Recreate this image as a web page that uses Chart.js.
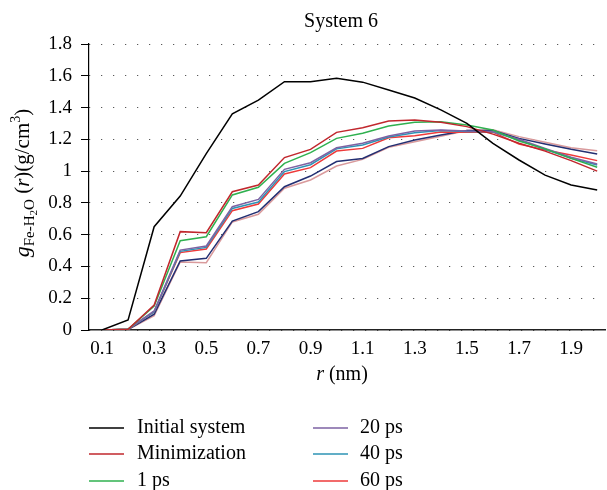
<!DOCTYPE html>
<html>
<head>
<meta charset="utf-8">
<script src="https://cdn.jsdelivr.net/npm/chart.js@4"></script>
<style>
  html, body { margin: 0; padding: 0; background: #fff; }
  #wrap { width: 607px; height: 490px; }
</style>
</head>
<body>
<div id="wrap"><canvas id="grafico" width="607" height="490"></canvas></div>
<script>
// distancia r (nm)
const rValores = [0.1, 0.2, 0.3, 0.4, 0.5, 0.6, 0.7, 0.8, 0.9, 1.0,
  1.1, 1.2, 1.3, 1.4, 1.5, 1.6, 1.7, 1.8, 1.9, 2.0];

const xTicks = [0.1, 0.3, 0.5, 0.7, 0.9, 1.1, 1.3, 1.5, 1.7, 1.9];

// g Fe-H2O (r) para cada etapa
const sistemaInicial = [0, 0.063, 0.65, 0.843, 1.11, 1.36, 1.447, 1.563, 1.563, 1.584,
  1.56, 1.51, 1.46, 1.385, 1.30, 1.175, 1.07, 0.975, 0.913, 0.881];
const minimizacion = [0, 0.005, 0.157, 0.619, 0.612, 0.87, 0.912, 1.085, 1.137, 1.244,
  1.273, 1.315, 1.322, 1.307, 1.28, 1.233, 1.175, 1.126, 1.066, 1.0];
const ps1 = [0, 0.005, 0.15, 0.562, 0.587, 0.85, 0.898, 1.049, 1.116, 1.206,
  1.238, 1.284, 1.307, 1.311, 1.29, 1.259, 1.19, 1.14, 1.08, 1.024];
const ps20 = [0, 0.005, 0.12, 0.503, 0.529, 0.776, 0.822, 1.011, 1.053, 1.147,
  1.175, 1.221, 1.252, 1.259, 1.252, 1.25, 1.2, 1.143, 1.087, 1.045];
const ps40 = [0, 0.005, 0.115, 0.495, 0.52, 0.765, 0.805, 0.997, 1.04, 1.14,
  1.165, 1.215, 1.242, 1.255, 1.25, 1.247, 1.195, 1.138, 1.08, 1.038];
const ps60 = [0, 0.005, 0.115, 0.487, 0.51, 0.751, 0.793, 0.982, 1.022, 1.126,
  1.143, 1.21, 1.223, 1.246, 1.244, 1.245, 1.17, 1.133, 1.101, 1.066];
// dos curvas sin entrada en la leyenda
const serieAzul = [0, 0.003, 0.1, 0.434, 0.451, 0.686, 0.745, 0.902, 0.969, 1.06,
  1.08, 1.154, 1.196, 1.227, 1.255, 1.255, 1.206, 1.17, 1.137, 1.108];
const serieRosa = [0, 0.003, 0.09, 0.428, 0.424, 0.68, 0.728, 0.892, 0.944, 1.032,
  1.074, 1.15, 1.185, 1.22, 1.255, 1.26, 1.217, 1.181, 1.147, 1.128];

const FUENTE = "'Liberation Serif', 'Times New Roman', serif";

const serie = (label, datos, color, enLeyenda) => ({
  label: label,
  data: rValores.map((r, i) => ({ x: r, y: datos[i] })),
  borderColor: color,
  backgroundColor: color,
  borderWidth: 1.5,
  pointRadius: 0,
  tension: 0,
  enLeyenda: enLeyenda,
});

// dibuja partes de texto con distinto tamaño / desplazamiento
const dibujarPartes = (ctx, partes, x0, y0) => {
  let x = x0;
  partes.forEach((p) => {
    ctx.font = (p.it ? "italic " : "") + p.s + "px " + FUENTE;
    ctx.fillText(p.t, x, y0 + (p.dy || 0));
    x += ctx.measureText(p.t).width;
  });
};
const anchoPartes = (ctx, partes) => {
  let w = 0;
  partes.forEach((p) => {
    ctx.font = (p.it ? "italic " : "") + p.s + "px " + FUENTE;
    w += ctx.measureText(p.t).width;
  });
  return w;
};

const textos = {
  id: "textos",
  afterDraw(chart) {
    const ctx = chart.ctx;
    ctx.save();
    ctx.fillStyle = "#000";
    ctx.textBaseline = "alphabetic";
    ctx.textAlign = "left";

    // titulo
    const titulo = [{ t: "System 6", s: 20 }];
    dibujarPartes(ctx, titulo, 341 - anchoPartes(ctx, titulo) / 2, 27);

    // titulo eje x
    const tx = [{ t: "r", s: 20, it: true }, { t: " (nm)", s: 20 }];
    dibujarPartes(ctx, tx, 342 - anchoPartes(ctx, tx) / 2, 380);

    // titulo eje y (rotado)
    const ty = [
      { t: "g", s: 22, it: true },
      { t: "Fe-H", s: 15, dy: 5 },
      { t: "2", s: 11, dy: 8 },
      { t: "O", s: 15, dy: 5 },
      { t: " (", s: 21 },
      { t: "r", s: 21, it: true },
      { t: ")(g/cm", s: 21 },
      { t: "3", s: 14, dy: -9 },
      { t: ")", s: 21 },
    ];
    ctx.translate(22, 183);
    ctx.rotate(-Math.PI / 2);
    dibujarPartes(ctx, ty, -anchoPartes(ctx, ty) / 2, 7);
    ctx.restore();

    // leyenda en dos columnas
    ctx.save();
    ctx.textBaseline = "middle";
    ctx.fillStyle = "#000";
    ctx.font = "20px " + FUENTE;
    const items = chart.data.datasets.filter((d) => d.enLeyenda);
    const filas = [428, 454, 481];
    items.forEach((d, i) => {
      const col = Math.floor(i / 3);
      const y = filas[i % 3];
      const x1 = col === 0 ? 89 : 313;
      ctx.strokeStyle = d.borderColor;
      ctx.lineWidth = 1.5;
      ctx.beginPath();
      ctx.moveTo(x1, y);
      ctx.lineTo(x1 + 35, y);
      ctx.stroke();
      ctx.fillText(d.label, col === 0 ? 137 : 360, y);
    });
    ctx.restore();
  },
};

new Chart(document.getElementById("grafico"), {
  type: "line",
  data: {
    datasets: [
      serie("Initial system", sistemaInicial, "#000000", true),
      serie("Minimization", minimizacion, "#c1272d", true),
      serie("1 ps", ps1, "#2fb04f", true),
      serie("20 ps", ps20, "#7d62a3", true),
      serie("40 ps", ps40, "#2d93b5", true),
      serie("60 ps", ps60, "#ee3a3a", true),
      serie("", serieAzul, "#232f72", false),
      serie("", serieRosa, "#d99a9c", false),
    ],
  },
  options: {
    responsive: false,
    animation: false,
    layout: { padding: { top: 44, right: 2, bottom: 0, left: 0 } },
    plugins: {
      legend: { display: false },
      title: { display: false },
      tooltip: { enabled: false },
    },
    scales: {
      x: {
        type: "linear",
        min: 0.05,
        max: 2.03,
        afterBuildTicks: (s) => { s.ticks = xTicks.map((v) => ({ value: v })); },
        afterFit: (s) => { s.height = 160; },
        grid: { display: false, drawTicks: false },
        border: { display: true, color: "#222", width: 1.5 },
        ticks: {
          padding: 8,
          color: "#000",
          font: { family: FUENTE, size: 19 },
          callback: (v) => Number(v).toFixed(1),
        },
      },
      y: {
        min: 0,
        max: 1.8,
        afterFit: (s) => { s.width = 89; },
        grid: {
          color: "#333",
          lineWidth: 1,
          drawTicks: true,
          tickLength: 8,
          tickColor: "#000",
          tickWidth: 1,
        },
        border: { display: true, color: "#000", width: 1.2, dash: [1, 11] },
        ticks: {
          stepSize: 0.2,
          padding: 9,
          color: "#000",
          font: { family: FUENTE, size: 19 },
          callback: (v) => Number(v.toFixed(1)).toString(),
        },
      },
    },
  },
  plugins: [textos],
});
</script>
</body>
</html>
